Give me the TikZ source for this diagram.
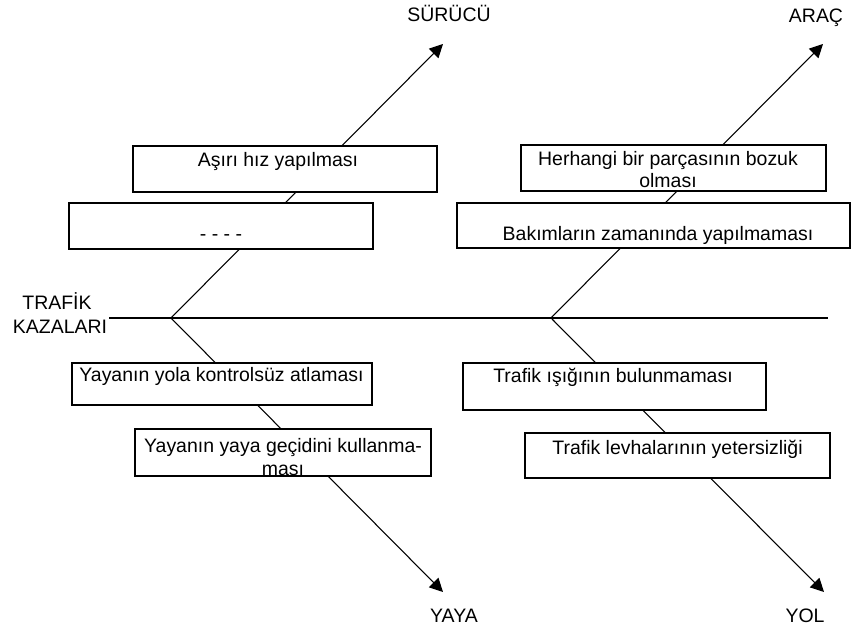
\documentclass[tikz,border=0pt]{standalone}
\usepackage{fontspec}
\setmainfont{Liberation Sans}
\usetikzlibrary{arrows.meta, positioning, calc}

\tikzset{
  kutu/.style={draw, fill=white, line width=1pt, inner sep=0pt},
  yazi/.style={anchor=base, align=center, inner sep=0pt,
               font=\fontsize{14.6}{16.8}\selectfont},
  kol/.style={line width=0.8pt},
  okkol/.style={line width=0.8pt, -{Triangle[length=10pt,width=10pt]}},
}

\begin{document}
\begin{tikzpicture}[x=0.75pt, y=-0.75pt]
        \useasboundingbox (0,0) rectangle (860,630);

        % ===================================================
        % 1. SPINE AND BRANCHES
        % ===================================================
        \node[yazi] (trafik) at (57,310) {TRAFİK};
        \node[yazi] (kaza) at (60,334) {KAZALARI};

        \coordinate (bas) at (109,318);
        \coordinate (son) at (828,318);
        \coordinate (solk) at (171,318);   % left fork
        \coordinate (sagk) at (551,318);   % right fork

        \coordinate (ucSurucu) at (443,44);
        \coordinate (ucArac) at (823,44);
        \coordinate (ucYaya) at (443,592);
        \coordinate (ucYol) at (824,592);

        \draw[kol] (bas) -- (son);
        \draw[okkol] (solk) -- (ucSurucu);
        \draw[okkol] (solk) -- (ucYaya);
        \draw[okkol] (sagk) -- (ucArac);
        \draw[okkol] (sagk) -- (ucYol);

        % branch names
        \node[yazi] (surucu) at (449,22) {SÜRÜCÜ};
        \node[yazi] (arac) at (816,23) {ARAÇ};
        \node[yazi] (yaya) at (454,622) {YAYA};
        \node[yazi] (yol) at (805,622) {YOL};

        % ===================================================
        % 2. CAUSE BOXES (upper)
        % ===================================================
        \node[kutu, minimum width=228pt, minimum height=34.5pt] (s1) at (285,169) {};
        \node[yazi] at (278,167) {Aşırı hız yapılması};

        \node[kutu, minimum width=228pt, minimum height=34.5pt] (s2) at (221,226) {};
        \node[yazi] at (221,241) {- - - -};

        \node[kutu, minimum width=228.75pt, minimum height=34.5pt] (a1) at (673.5,168) {};
        \node[yazi] at (668,188) {Herhangi bir parçasının bozuk\\olması};

        \node[kutu, minimum width=294.75pt, minimum height=33.75pt] (a2) at (653.5,225.5) {};
        \node[yazi] at (658,241) {Bakımların zamanında yapılmaması};

        % ===================================================
        % 3. CAUSE BOXES (lower)
        % ===================================================
        \node[kutu, minimum width=225pt, minimum height=31.5pt] (y1) at (222,384) {};
        \node[yazi] at (221.5,382) {Yayanın yola kontrolsüz atlaması};

        \node[kutu, minimum width=222pt, minimum height=35.25pt] (y2) at (283,452.5) {};
        \node[yazi] at (283,475) {Yayanın yaya geçidini kullanma-\\ması};

        \node[kutu, minimum width=227.25pt, minimum height=35.25pt] (o1) at (614.5,386.5) {};
        \node[yazi] at (613,383) {Trafik ışığının bulunmaması};

        \node[kutu, minimum width=228.75pt, minimum height=33.75pt] (o2) at (677.5,455.5) {};
        \node[yazi] at (677.5,455) {Trafik levhalarının yetersizliği};

\end{tikzpicture}
\end{document}
